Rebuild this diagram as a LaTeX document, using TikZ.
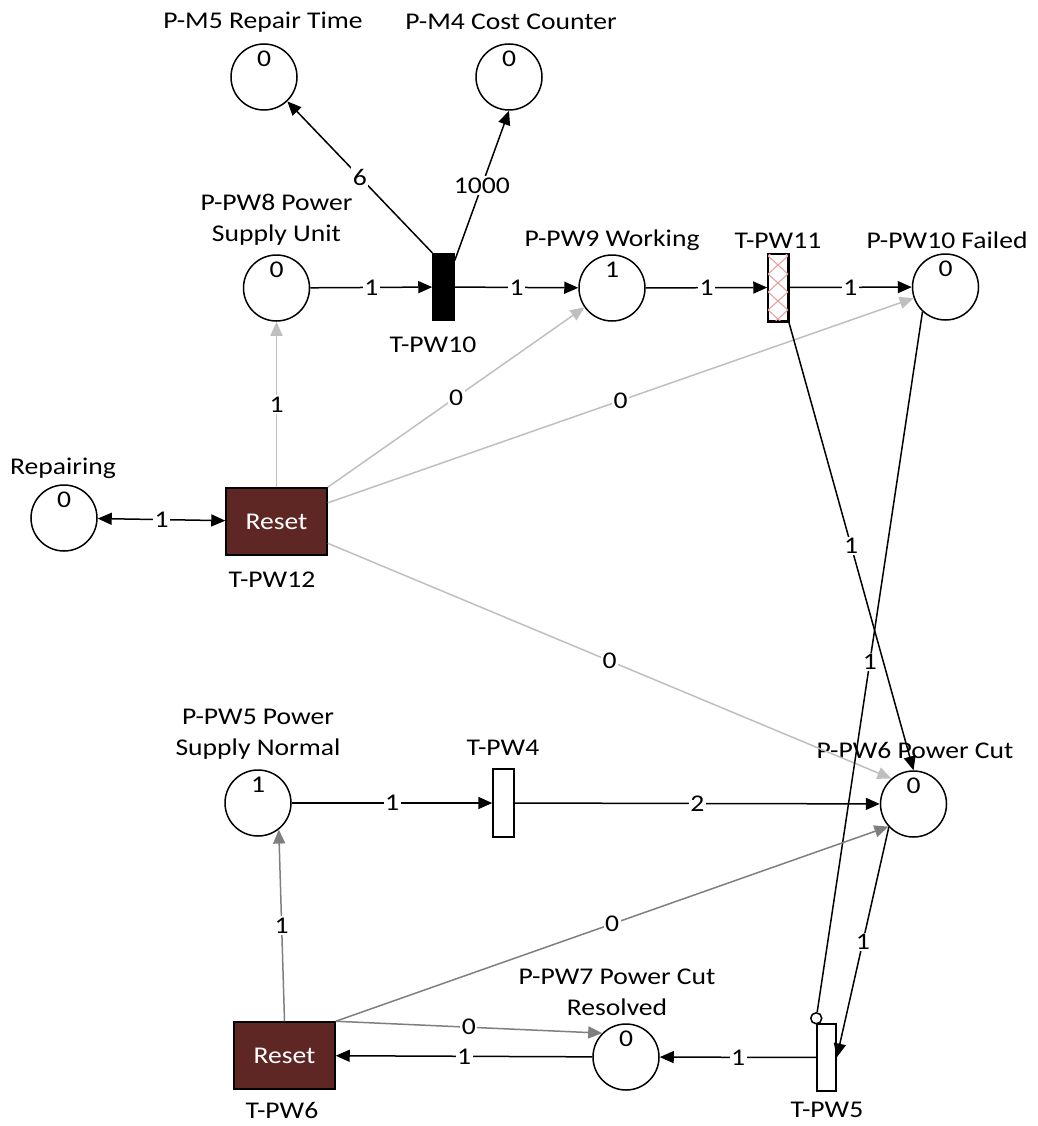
\documentclass[tikz,border=0pt]{standalone}
\usepackage{fontspec}
\setmainfont{Carlito}[FakeStretch=1.15]
\usetikzlibrary{arrows.meta}
\definecolor{resetred}{HTML}{5F2723}
\definecolor{lightarc}{HTML}{BFBFBF}
\definecolor{midarc}{HTML}{7F7F7F}
\definecolor{hatchc}{HTML}{E89C9C}

\begin{document}
\begin{tikzpicture}[x=1pt,y=-1pt,
  font=\fontsize{24}{31}\selectfont,
  >={Triangle[length=14pt,width=12pt]},
  place/.style={circle,draw,line width=1.5pt,minimum size=66pt,inner sep=0pt},
  trans/.style={rectangle,draw,fill=white,line width=1.5pt,inner sep=0pt},
  reset/.style={trans,fill=resetred,minimum width=101pt,minimum height=67pt,text=white},
  arc/.style={line width=1.5pt,->},
  grayarc/.style={arc,draw=lightarc,fill=lightarc},
  darkarc/.style={arc,draw=midarc,fill=midarc},
  wt/.style={fill=white,inner sep=1.5pt,midway,text=black},
  tok/.style={inner sep=0pt},
  lbl/.style={align=center,inner sep=0pt}
]
\useasboundingbox (0,0) rectangle (1037,1126);

% ---------- places ----------
\node[place] (M5)   at (264,77)    {};
\node[place] (M4)   at (509,77)    {};
\node[place] (PW8)  at (276.5,288) {};
\node[place] (PW9)  at (612,288)   {};
\node[place] (PW10) at (945.5,287) {};
\node[place] (Rep)  at (64,518)    {};
\node[place] (PW5)  at (258,803)   {};
\node[place] (PW6)  at (913.5,804) {};
\node[place] (PW7)  at (626,1057)  {};

% ---------- tokens ----------
\node[tok] (M5t)   at ([yshift=18pt]M5.center)   {0};
\node[tok] (M4t)   at ([yshift=18pt]M4.center)   {0};
\node[tok] (PW8t)  at ([yshift=18pt]PW8.center)  {0};
\node[tok] (PW9t)  at ([yshift=18pt]PW9.center)  {1};
\node[tok] (PW10t) at ([yshift=18pt]PW10.center) {0};
\node[tok] (Rept)  at ([yshift=18pt]Rep.center)  {0};
\node[tok] (PW5t)  at ([yshift=18pt]PW5.center)  {1};
\node[tok] (PW6t)  at ([yshift=18pt]PW6.center)  {0};
\node[tok] (PW7t)  at ([yshift=18pt]PW7.center)  {0};

% ---------- transitions ----------
\node[trans,fill=black,minimum width=21pt,minimum height=67pt] (T10) at (443.5,287) {};
\node[trans,minimum width=20pt,minimum height=67pt] (T11) at (778,287.5) {};
% cross-hatching of the timed transition
\begin{scope}
  \clip (T11.north west) rectangle (T11.south east);
  \foreach \k in {-1,...,4}
    \draw[hatchc,line width=1pt]
      (768,{256+18*\k}) -- (788,{274+18*\k})
      (768,{274+18*\k}) -- (788,{256+18*\k});
\end{scope}
\draw[line width=1.5pt] (T11.north west) rectangle (T11.south east);

\node[reset] (T12) at (276.5,521.5) {Reset};
\node[trans,minimum width=21pt,minimum height=68pt] (T4) at (503.5,803) {};
\node[reset] (T6) at (284.5,1055.5) {Reset};
\node[trans,minimum width=19pt,minimum height=67pt] (T5) at (826.5,1057.5) {};
\node[circle,draw,fill=white,line width=1.5pt,minimum size=11pt,inner sep=0pt]
  (inh) at ([yshift=5pt]T5.north west) {};

% ---------- names ----------
\node[lbl] (M5l)   at (263,22)   {P-M5 Repair Time};
\node[lbl] (M4l)   at (511,22)   {P-M4 Cost Counter};
\node[lbl] (PW8l)  at (276.5,220) {P-PW8 Power\\Supply Unit};
\node[lbl] (T10l)  at (433,345)  {T-PW10};
\node[lbl] (PW9l)  at (612,240)  {P-PW9 Working};
\node[lbl] (T11l)  at (778,241)  {T-PW11};
\node[lbl] (PW10l) at (947,240)  {P-PW10 Failed};
\node[lbl] (Repl)  at (63,468)   {Repairing};
\node[lbl] (T12l)  at (272,580)  {T-PW12};
\node[lbl] (PW5l)  at (258,734)  {P-PW5 Power\\Supply Normal};
\node[lbl] (T4l)   at (503,748)  {T-PW4};
\node[lbl] (PW6l)  at (915,750)  {P-PW6 Power Cut};
\node[lbl] (PW7l)  at (617,992)  {P-PW7 Power Cut\\Resolved};
\node[lbl] (T6l)   at (282,1110) {T-PW6};
\node[lbl] (T5l)   at (827,1110) {T-PW5};

% ---------- upper net ----------
\draw[arc] (PW8) -- node[wt] (a1) {1} (T10);
\draw[arc] (T10) -- node[wt] (a2) {1} (PW9);
\draw[arc] (PW9) -- node[wt] (a3) {1} (T11);
\draw[arc] (T11) -- node[wt] (a4) {1} (PW10);
\draw[arc] (T10.north west) -- node[wt] (a5) {6} (M5);
\draw[arc] (T10.67.8) -- node[wt] (a6) {1000} (M4.south);

% ---------- reset T-PW12 ----------
\draw[line width=1.5pt,<->] (Rep) -- node[wt] (a7) {1} (T12);
\draw[grayarc] (T12.north) -- node[wt] (a8) {1} (PW8);
\draw[grayarc] (T12.north east) -- node[wt] (a9) {0} (PW9);
\draw[grayarc] (T12.20) -- node[wt] (a10) {0} (PW10);
\draw[grayarc] (T12.-23) -- node[wt] (a11) {0} (PW6.131);

% ---------- failure to power cut ----------
\draw[arc] (T11.south east) -- node[wt] (a12) {1} (PW6.north);
\draw[line width=1.5pt] (PW10.-133) -- node[wt] (a13) {1} (inh);

% ---------- lower net ----------
\draw[arc] (PW5) -- node[wt] (a14) {1} (T4);
\draw[arc] (T4) -- node[wt] (a15) {2} (PW6);
\draw[arc] (PW6.-137) -- node[wt] (a16) {1} (T5.east);
\draw[arc] (T5) -- node[wt] (a17) {1} (PW7);
\draw[arc] (PW7) -- node[wt] (a18) {1} (T6);

% ---------- reset T-PW6 ----------
\draw[darkarc] (T6.north) -- node[wt] (a19) {1} (PW5.-52);
\draw[darkarc] (T6.north east) -- node[wt] (a20) {0} (PW6.-138);
\draw[darkarc] (T6.north east) -- node[wt] (a21) {0} (PW7.135);
\end{tikzpicture}
\end{document}
